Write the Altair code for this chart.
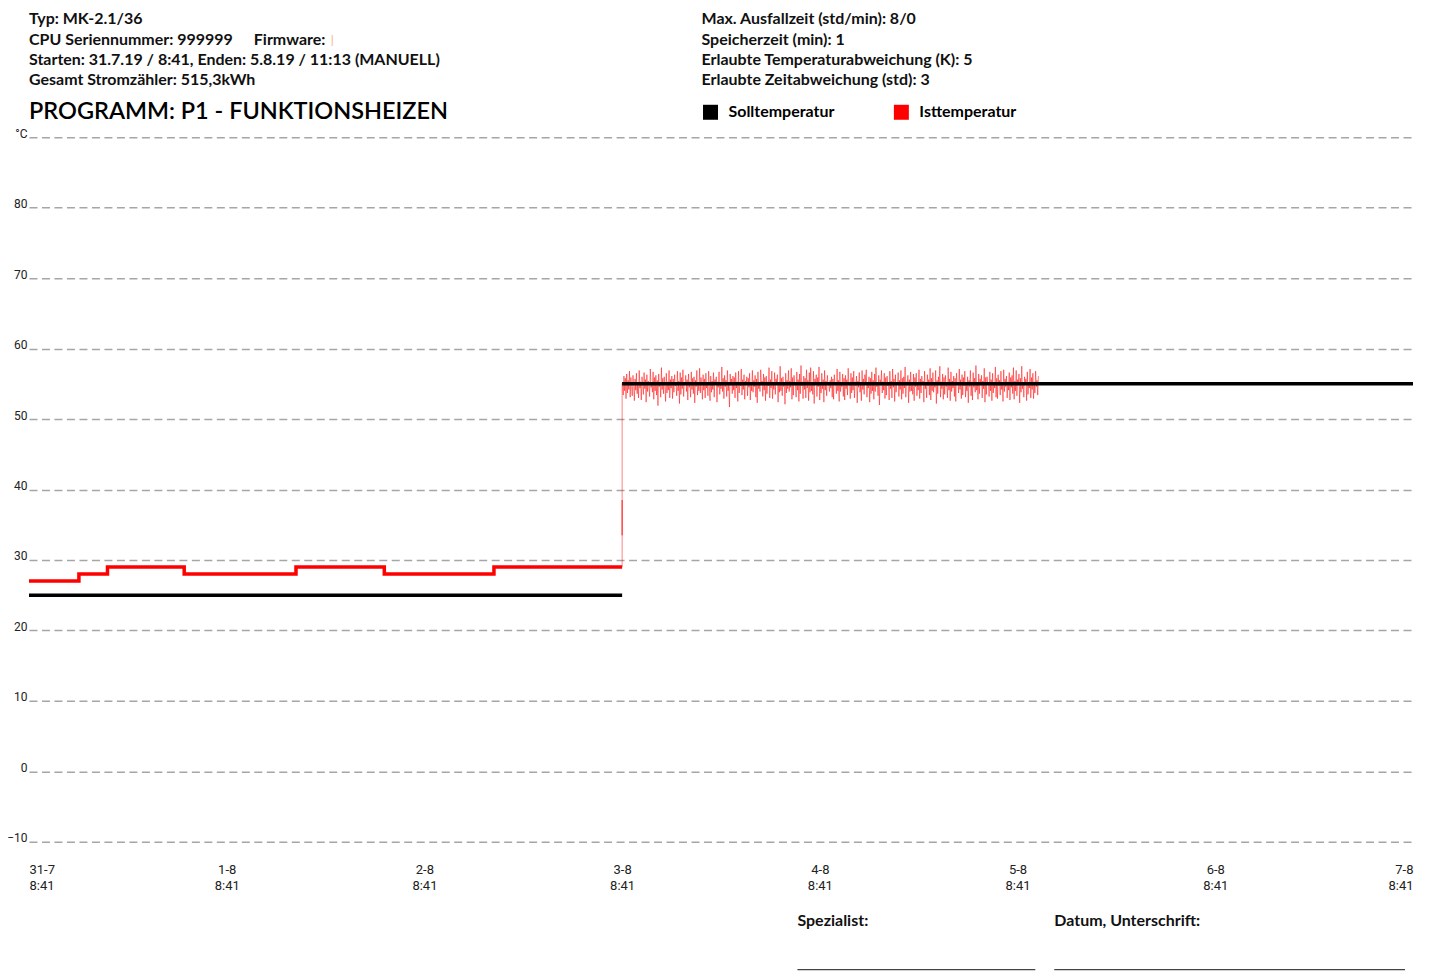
import altair as alt
import pandas as pd

# ---------------- data ----------------
# actual temperature, stepped phase (hours since 31.7.19 8:41, °C)
step_hours = [0.0, 6.06, 9.53, 18.84, 32.41, 43.13, 56.44, 72.0]
step_temps = [27, 28, 29, 28, 29, 28, 29, 29]

# set-point temperature segments
set_hours = [0.0, 72.0, 72.0, 168.0]
set_temps = [25, 25, 55, 55]
set_segment = ["a", "a", "b", "b"]

# jump at 3-8 8:41 and noisy actual temperature until 5.8.19 11:13
jump_temps = [29.0, 38.5, 33.5, 38.0, 55.0]
noise_start_h = 72.05
noise_end_h = 122.53
noise_temps = [
    55.2, 53.4, 56.1, 54.0, 55.8, 52.9, 56.4, 53.7, 55.5, 54.2, 56.8, 53.1, 55.9, 54.6, 53.3, 56.2, 54.8, 52.6, 55.7, 54.1,
    56.5, 53.6, 55.1, 53.0, 56.9, 54.4, 55.3, 52.7, 56.0, 54.9, 53.5, 56.6, 54.3, 55.6, 52.4, 56.3, 53.9, 55.4, 54.7, 53.2,
    57.1, 54.5, 55.0, 53.8, 56.7, 52.8, 55.9, 54.0, 56.2, 53.4, 55.5, 51.9, 56.4, 54.6, 55.2, 53.1, 57.3, 54.2, 55.8, 53.6,
    56.0, 54.8, 52.5, 56.5, 53.7, 55.3, 54.1, 56.9, 53.0, 55.6, 54.4, 56.1, 52.9, 55.7, 53.8, 56.3, 54.7, 55.0, 53.3, 56.8,
    54.0, 55.4, 52.2, 56.6, 53.5, 55.9, 54.3, 57.0, 53.2, 55.1, 54.9, 56.2, 53.9, 55.6, 52.7, 56.4, 54.5, 55.3, 53.1, 56.7,
    54.2, 55.8, 53.6, 56.0, 52.3, 55.5, 54.6, 56.9, 53.4, 55.2, 54.0, 57.2, 53.7, 55.9, 54.8, 52.8, 56.3, 54.1, 55.7, 53.0,
    56.5, 54.4, 55.0, 53.3, 56.8, 54.7, 52.6, 56.1, 53.8, 55.4, 54.2, 56.6, 53.1, 55.6, 54.9, 56.0, 52.4, 55.3, 54.5, 56.7,
    53.5, 55.1, 54.3, 57.4, 53.9, 55.8, 52.9, 56.2, 54.6, 55.5, 53.2, 56.9, 54.0, 55.2, 51.7, 56.4, 54.8, 55.7, 53.6, 56.1,
    54.1, 55.9, 53.0, 56.6, 54.4, 55.3, 52.5, 56.8, 53.7, 55.0, 54.7, 57.1, 53.4, 55.6, 54.2, 56.3, 52.8, 55.4, 54.9, 56.0,
    53.3, 55.8, 54.5, 56.5, 52.7, 55.1, 54.0, 56.9, 53.8, 55.5, 54.6, 56.2, 53.1, 55.7, 52.3, 56.7, 54.3, 55.2, 53.9, 57.0,
    54.8, 55.4, 53.2, 56.4, 54.1, 55.9, 52.6, 56.1, 53.6, 55.3, 54.7, 57.3, 53.0, 55.6, 54.4, 56.8, 52.9, 55.0, 54.2, 56.6,
    53.5, 55.7, 54.9, 56.3, 52.4, 55.2, 53.8, 57.5, 54.0, 55.8, 53.3, 56.0, 54.6, 55.1, 52.1, 56.5, 53.7, 55.5, 54.3, 56.9,
    53.9, 55.4, 54.5, 57.2, 52.8, 55.9, 53.4, 56.2, 54.8, 55.0, 53.1, 56.7, 54.1, 55.6, 52.5, 56.4, 53.6, 57.6, 54.7, 55.3,
    52.9, 56.1, 54.2, 55.8, 53.0, 57.0, 54.4, 55.5, 52.6, 56.6, 53.8, 57.3, 54.0, 55.2, 53.5, 56.8, 52.2, 55.7, 54.9, 56.3,
    53.2, 55.9, 54.6, 57.4, 52.7, 55.1, 53.7, 56.5, 54.3, 55.6, 52.4, 56.9, 54.1, 55.4, 53.3, 56.2, 54.8, 55.0, 53.9, 55.5,
    54.4, 56.0, 53.1, 55.7, 52.8, 56.3, 54.9, 55.2, 53.6, 57.1, 54.0, 55.5, 52.5, 56.7, 53.9, 55.0, 54.6, 56.4, 53.2, 55.8,
    52.7, 56.2, 54.3, 55.6, 53.4, 57.2, 54.8, 55.1, 52.9, 56.5, 53.7, 55.9, 54.1, 56.8, 53.0, 55.3, 54.7, 56.1, 52.3, 55.4,
    54.5, 56.6, 53.8, 55.0, 52.6, 56.9, 54.2, 55.7, 53.5, 56.3, 54.9, 57.0, 53.1, 55.2, 54.4, 56.0, 52.4, 55.8, 53.6, 56.7,
    54.0, 55.5, 52.8, 56.4, 53.9, 57.3, 54.6, 55.1, 53.3, 56.2, 52.0, 55.6, 54.8, 56.9, 53.7, 55.3, 54.1, 56.5, 52.9, 55.9,
    53.4, 56.1, 54.7, 55.0, 52.7, 56.8, 54.3, 55.4, 53.0, 57.1, 54.5, 55.7, 52.5, 56.3, 53.8, 55.2, 54.9, 56.6, 53.2, 55.5,
    54.2, 56.9, 52.8, 55.8, 53.6, 56.0, 54.4, 57.4, 53.1, 55.3, 54.8, 56.2, 52.3, 55.6, 53.9, 56.7, 54.0, 55.1, 53.5, 56.4,
    52.6, 55.9, 54.6, 56.5, 53.3, 55.0, 54.1, 57.0, 52.9, 55.7, 53.7, 56.1, 54.9, 55.4, 52.4, 56.8, 54.3, 55.2, 53.0, 56.3,
    54.7, 55.6, 53.4, 57.2, 52.7, 55.8, 54.0, 56.6, 53.8, 55.1, 54.5, 56.9, 52.2, 55.5, 53.6, 56.0, 54.8, 57.5, 53.1, 55.3,
    54.3, 56.4, 52.8, 55.9, 53.5, 56.2, 54.6, 55.0, 53.0, 57.3, 54.1, 55.7, 52.6, 56.7, 53.9, 55.4, 54.4, 56.1, 53.2, 55.8,
    52.5, 56.5, 54.9, 55.2, 53.7, 57.1, 54.2, 55.6, 52.9, 56.3, 53.4, 55.9, 54.7, 56.8, 53.1, 55.0, 54.0, 56.0, 52.3, 55.5,
    54.6, 56.9, 53.3, 55.3, 52.7, 56.6, 54.5, 55.8, 53.8, 57.6, 54.1, 55.1, 52.8, 56.4, 53.6, 55.7, 54.8, 56.2, 53.0, 55.4,
    54.3, 57.2, 52.4, 55.9, 53.5, 56.0, 54.9, 55.2, 53.2, 56.7, 54.0, 55.6, 52.6, 56.5, 53.7, 55.0, 54.4, 57.4, 53.1, 55.8,
    52.9, 56.3, 54.7, 55.5, 53.4, 56.8, 54.2, 55.1, 52.5, 57.0, 53.9, 55.7, 54.6, 56.1, 53.0, 55.3, 54.1, 56.6, 52.7, 55.9,
    54.5, 56.2, 53.6, 57.3, 52.8, 55.4, 54.0, 56.9, 53.3, 55.6, 54.8, 56.4, 52.3, 55.8, 53.8, 57.5, 54.3, 55.0, 53.1, 56.0,
    54.9, 55.7, 52.6, 56.7, 53.5, 55.2, 54.4, 57.1, 53.0, 55.9, 54.2, 56.5, 52.9, 55.3, 53.7, 56.8, 54.6, 55.5, 53.4, 56.1,
]

series_names = ["Solltemperatur", "Isttemperatur"]
series_colors = ["#000000", "#ff0000"]

x_tick_hours = [0, 24, 48, 72, 96, 120, 144, 168]
x_tick_labels = [["31-7", "8:41"], ["1-8", "8:41"], ["2-8", "8:41"], ["3-8", "8:41"],
                 ["4-8", "8:41"], ["5-8", "8:41"], ["6-8", "8:41"], ["7-8", "8:41"]]
y_ticks = [-10, 0, 10, 20, 30, 40, 50, 60, 70, 80, 90]

header_left = ["Typ: MK-2.1/36",
               "CPU Seriennummer: 999999",
               "Starten: 31.7.19 / 8:41, Enden: 5.8.19 / 11:13 (MANUELL)",
               "Gesamt Stromzähler: 515,3kWh"]
firmware_text = "Firmware:"
header_right = ["Max. Ausfallzeit (std/min): 8/0",
                "Speicherzeit (min): 1",
                "Erlaubte Temperaturabweichung (K): 5",
                "Erlaubte Zeitabweichung (std): 3"]
title_text = "PROGRAMM: P1 - FUNKTIONSHEIZEN"
footer_texts = ["Spezialist:", "Datum, Unterschrift:"]

# ---------------- tables ----------------
n = len(noise_temps)
noise_hours = [noise_start_h + (noise_end_h - noise_start_h) * i / (n - 1) for i in range(n)]
ist_noise = pd.DataFrame({
    "h": [72.0] * len(jump_temps) + noise_hours,
    "t": jump_temps + noise_temps,
})
ist_noise["i"] = range(len(ist_noise))
ist_steps = pd.DataFrame({"h": step_hours, "t": step_temps})
soll = pd.DataFrame({"h": set_hours, "t": set_temps, "seg": set_segment, "s": "Solltemperatur"})

W, H = 1385, 705
LABEL_FONT = "Roboto"
TEXT_FONT = "Lato"

label_js = "[" + ",".join("['%s','%s']" % (a, b) for a, b in x_tick_labels) + "]"

x_enc = alt.X("h:Q", scale=alt.Scale(domain=[0, 168], nice=False, zero=False),
              axis=alt.Axis(values=x_tick_hours, title=None, grid=False, domain=False,
                            ticks=False, tickSize=0, labelFlush=True, labelPadding=22,
                            labelBaseline="top", labelLineHeight=16,
                            labelExpr=label_js + "[round(datum.value/24)]",
                            labelFont=LABEL_FONT, labelFontSize=13, labelColor="#222"))
y_enc = alt.Y("t:Q", scale=alt.Scale(domain=[-10, 90], nice=False, zero=False),
              axis=alt.Axis(values=y_ticks, title=None, grid=True, domain=False, ticks=False,
                            tickSize=0, labelPadding=2, labelBaseline="alphabetic",
                            labelExpr="datum.value == 90 ? '°C' : datum.label",
                            gridDash=[8, 4.5], gridColor="#a6a6a6", gridWidth=1.5,
                            labelFont=LABEL_FONT, labelFontSize=12, labelColor="#222"))
color_scale = alt.Scale(domain=series_names, range=series_colors)

noise_layer = alt.Chart(ist_noise).mark_line(strokeWidth=0.9, opacity=0.55).encode(
    x=x_enc, y=y_enc, color=alt.value(series_colors[1]), order="i:Q")

steps_layer = alt.Chart(ist_steps).mark_line(strokeWidth=3.5, interpolate="step-after").encode(
    x=x_enc, y=y_enc, color=alt.value(series_colors[1]))

soll_layer = alt.Chart(soll).mark_line(strokeWidth=3.5).encode(
    x=x_enc, y=y_enc, detail="seg:N",
    color=alt.Color("s:N", scale=color_scale, sort=series_names,
                    legend=alt.Legend(orient="none", legendX=674, legendY=-33,
                                      direction="horizontal", title=None,
                                      symbolType="square", symbolSize=16,
                                      symbolStrokeWidth=11, symbolOpacity=1,
                                      labelFont=TEXT_FONT, labelFontSize=16,
                                      labelFontWeight="bold", labelColor="#000",
                                      labelOffset=10, columnPadding=42, padding=0)))


def text_at(txt, px, py, size=16, weight="bold", color="#111", font=TEXT_FONT):
    return alt.Chart(pd.DataFrame({"txt": [txt]})).mark_text(
        align="left", baseline="middle", font=font, fontSize=size,
        fontWeight=weight, color=color).encode(
        x=alt.value(px), y=alt.value(py), text="txt:N")


row_y = [-118, -97.7, -77.3, -57]
texts = []
for line, yy in zip(header_left, row_y):
    texts.append(text_at(line, 0, yy))
texts.append(text_at(firmware_text, 225, row_y[1]))
texts.append(text_at("|", 302, row_y[1], size=12, weight="normal", color="#f2b37a"))
for line, yy in zip(header_right, row_y):
    texts.append(text_at(line, 673, yy))
texts.append(text_at(title_text, 0, -25, size=23.5, weight=600, color="#000"))
texts.append(text_at(footer_texts[0], 769, 784))
texts.append(text_at(footer_texts[1], 1026, 784))

underline_a = alt.Chart(pd.DataFrame({"k": [0]})).mark_rule(color="#444", strokeWidth=1.3).encode(
    x=alt.value(769), x2=alt.value(1007), y=alt.value(833))
underline_b = alt.Chart(pd.DataFrame({"k": [0]})).mark_rule(color="#444", strokeWidth=1.3).encode(
    x=alt.value(1026), x2=alt.value(1377), y=alt.value(833))

chart = alt.layer(noise_layer, steps_layer, soll_layer, *texts, underline_a, underline_b).properties(
    width=W, height=H,
    autosize=alt.AutoSizeParams(type="none"),
    padding={"left": 21, "top": 129, "right": 12, "bottom": 132},
).configure(background="white").configure_view(strokeWidth=0, stroke=None)

chart.save("out.html", embed_options={"renderer": "svg", "actions": False})
